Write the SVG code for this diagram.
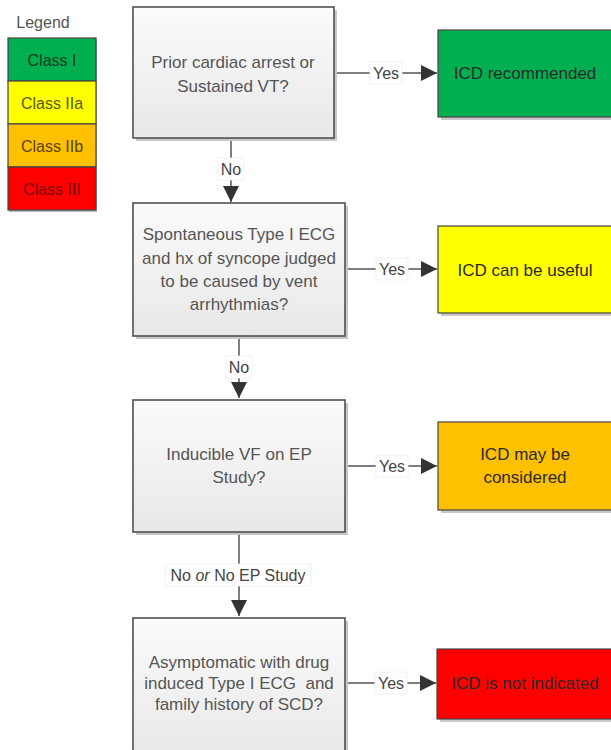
<svg xmlns="http://www.w3.org/2000/svg" width="611" height="750" viewBox="0 0 611 750">
<style>
text{font-family:"Liberation Sans",Arial,sans-serif;text-anchor:middle;dominant-baseline:central}
.q{fill:url(#g);stroke:#505050;stroke-width:1.6}
.sh{fill:#c8c8c8}
.qt{font-size:17px;fill:#555}
.rt{font-size:17px;fill:#2a2a2a}
.lt{font-size:16px}
.ln{stroke:#555;stroke-width:1.5;fill:none}
.lb{fill:#fff;stroke:#eee;stroke-width:0.8}
.lab{font-size:16px;fill:#444}
.rb{stroke:#444;stroke-width:1.2}
</style>
<defs>
<linearGradient id="g" x1="0" y1="0" x2="0" y2="1">
<stop offset="0" stop-color="#fbfbfb"/>
<stop offset="1" stop-color="#e8e8e8"/>
</linearGradient>
<marker id="a" viewBox="0 0 10 10" refX="10" refY="5" markerWidth="16" markerHeight="16" markerUnits="userSpaceOnUse" orient="auto">
<path d="M0,0 L10,5 L0,10 z" fill="#333"/>
</marker>
</defs>
<rect width="611" height="750" fill="#fff"/>

<g id="legend">
<text x="43" y="22" style="font-size:16px;fill:#555">Legend</text>
<rect x="9" y="40" width="88" height="172" fill="#bbb"/>
<rect x="8" y="38" width="88" height="43" fill="#00b050" class="rb"/>
<rect x="8" y="81" width="88" height="43" fill="#ffff00" class="rb"/>
<rect x="8" y="124" width="88" height="43" fill="#ffc000" class="rb"/>
<rect x="8" y="167" width="88" height="43" fill="#ff0000" class="rb"/>
<text x="52" y="60" class="lt" fill="#0b3b1e">Class I</text>
<text x="52" y="103" class="lt" fill="#5a5a00">Class IIa</text>
<text x="52" y="146" class="lt" fill="#5a4200">Class IIb</text>
<text x="52" y="189" class="lt" fill="#7a0000">Class III</text>
</g>

<g id="connectors">
<line x1="334" y1="73" x2="437" y2="73" class="ln" marker-end="url(#a)"/>
<line x1="231" y1="138" x2="231" y2="202" class="ln" marker-end="url(#a)"/>
<line x1="345" y1="269" x2="437" y2="269" class="ln" marker-end="url(#a)"/>
<line x1="239" y1="336" x2="239" y2="398" class="ln" marker-end="url(#a)"/>
<line x1="345" y1="466" x2="437" y2="466" class="ln" marker-end="url(#a)"/>
<line x1="239" y1="532" x2="239" y2="616" class="ln" marker-end="url(#a)"/>
<line x1="345" y1="683" x2="436" y2="683" class="ln" marker-end="url(#a)"/>
<rect x="370" y="62" width="32" height="22" class="lb"/>
<text x="386" y="73" class="lab">Yes</text>
<rect x="218" y="158" width="26" height="22" class="lb"/>
<text x="231" y="169" class="lab">No</text>
<rect x="376" y="258" width="32" height="22" class="lb"/>
<text x="392" y="269" class="lab">Yes</text>
<rect x="226" y="356" width="26" height="22" class="lb"/>
<text x="239" y="367" class="lab">No</text>
<rect x="376" y="455" width="32" height="22" class="lb"/>
<text x="392" y="466" class="lab">Yes</text>
<rect x="165" y="564" width="146" height="22" class="lb"/>
<text x="238" y="575" class="lab">No <tspan font-style="italic">or</tspan> No EP Study</text>
<rect x="375" y="672" width="32" height="22" class="lb"/>
<text x="391" y="683" class="lab">Yes</text>
</g>

<g id="q1">
<rect x="136" y="10" width="201" height="131" class="sh"/>
<rect x="133" y="7" width="201" height="131" class="q"/>
<text x="233" y="62" class="qt">Prior cardiac arrest or</text>
<text x="233" y="86" class="qt">Sustained VT?</text>
</g>
<g id="r1">
<rect x="441" y="33" width="175" height="87" class="sh"/>
<rect x="438" y="30" width="180" height="87" fill="#00b050" class="rb"/>
<text x="525" y="73" class="rt" fill="#0e2a14">ICD recommended</text>
</g>

<g id="q2">
<rect x="136" y="206" width="212" height="133" class="sh"/>
<rect x="133" y="203" width="212" height="133" class="q"/>
<text x="239" y="234" class="qt">Spontaneous Type I ECG</text>
<text x="239" y="258" class="qt">and hx of syncope judged</text>
<text x="239" y="281" class="qt">to be caused by vent</text>
<text x="239" y="304" class="qt">arrhythmias?</text>
</g>
<g id="r2">
<rect x="441" y="229" width="175" height="87" class="sh"/>
<rect x="438" y="226" width="180" height="87" fill="#ffff00" class="rb"/>
<text x="525" y="270" class="rt">ICD can be useful</text>
</g>

<g id="q3">
<rect x="136" y="403" width="212" height="132" class="sh"/>
<rect x="133" y="400" width="212" height="132" class="q"/>
<text x="239" y="454" class="qt">Inducible VF on EP</text>
<text x="239" y="477" class="qt">Study?</text>
</g>
<g id="r3">
<rect x="441" y="425" width="175" height="88" class="sh"/>
<rect x="438" y="422" width="180" height="88" fill="#ffc000" class="rb"/>
<text x="525" y="454" class="rt">ICD may be</text>
<text x="525" y="477" class="rt">considered</text>
</g>

<g id="q4">
<rect x="136" y="621" width="212" height="140" class="sh"/>
<rect x="133" y="618" width="212" height="140" class="q"/>
<text x="239" y="662" class="qt">Asymptomatic with drug</text>
<text x="239" y="683" class="qt" xml:space="preserve">induced Type I ECG  and</text>
<text x="239" y="704" class="qt">family history of SCD?</text>
</g>
<g id="r4">
<rect x="440" y="652" width="175" height="70" class="sh"/>
<rect x="437" y="649" width="180" height="70" fill="#ff0000" class="rb"/>
<text x="525" y="683" class="rt" fill="#3a0000">ICD is not indicated</text>
</g>
</svg>
